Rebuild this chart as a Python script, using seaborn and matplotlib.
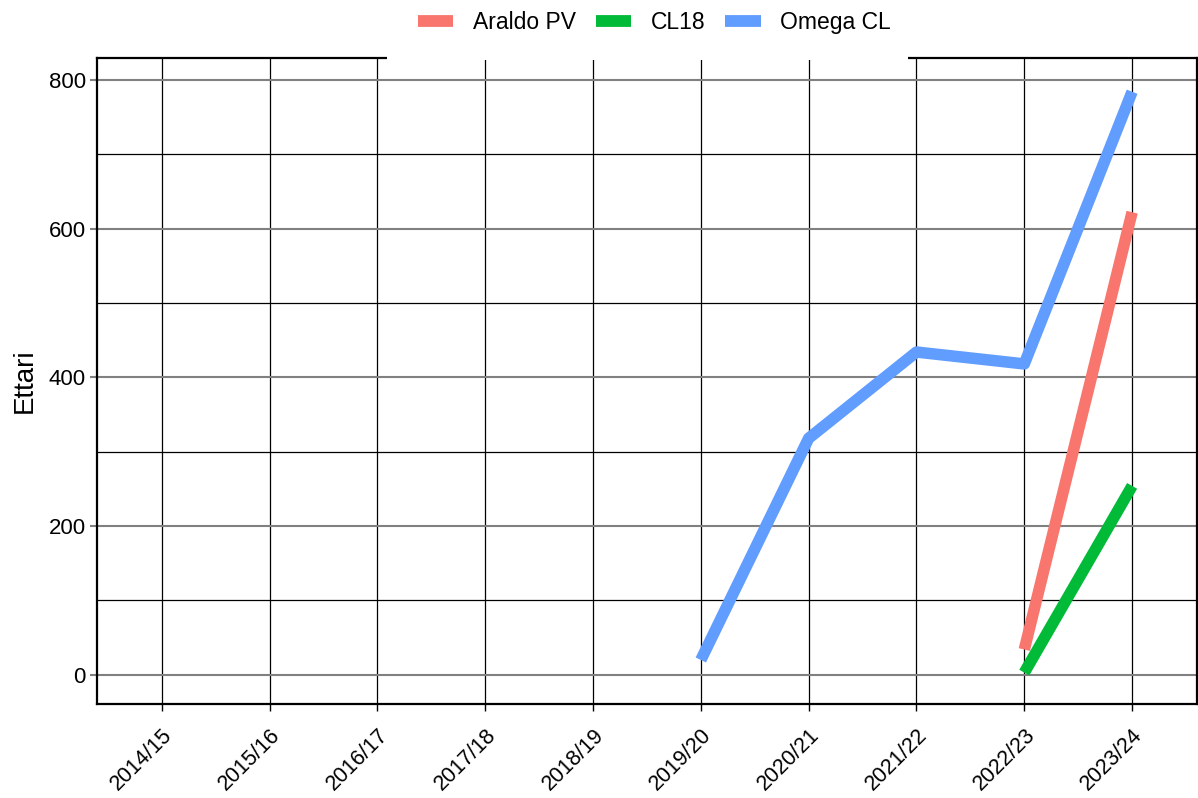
import numpy as np
import pandas as pd
import seaborn as sns
import matplotlib.pyplot as plt
from matplotlib.ticker import MultipleLocator
from matplotlib.lines import Line2D
from matplotlib.patches import Rectangle

seasons = ["2014/15", "2015/16", "2016/17", "2017/18", "2018/19",
           "2019/20", "2020/21", "2021/22", "2022/23", "2023/24"]
araldo = [np.nan] * 8 + [34, 622]
cl18 = [np.nan] * 8 + [3, 254]
omega = [np.nan] * 5 + [20, 318, 434, 418, 784]

names = ["Araldo PV", "CL18", "Omega CL"]
colors = ["#F8766D", "#00BA38", "#619CFF"]

df = pd.DataFrame({"Stagione": seasons, "Araldo PV": araldo,
                   "CL18": cl18, "Omega CL": omega})
df["x"] = range(len(seasons))
long = df.melt(id_vars=["Stagione", "x"], var_name="Varieta", value_name="Ettari").dropna()

sns.set_style("white")
plt.rcParams["font.family"] = ["Liberation Sans", "DejaVu Sans"]
plt.rcParams["text.color"] = "black"
plt.rcParams["axes.labelcolor"] = "black"
plt.rcParams["xtick.color"] = "black"
plt.rcParams["ytick.color"] = "black"

fig, ax = plt.subplots(figsize=(11.98, 7.98), dpi=100)
fig.subplots_adjust(left=0.081, right=0.999, top=0.927, bottom=0.118)

sns.lineplot(data=long, x="x", y="Ettari", hue="Varieta", hue_order=names,
             palette=colors, linewidth=8.3, solid_capstyle="butt",
             legend=False, ax=ax)

ax.set_xlim(-0.6, 9.6)
ax.set_ylim(-39, 829)
ax.set_xticks(range(len(seasons)))
ax.set_xticklabels(seasons, rotation=45, ha="right", rotation_mode="anchor", fontsize=15.5)
ax.yaxis.set_major_locator(MultipleLocator(200))
ax.yaxis.set_minor_locator(MultipleLocator(100))
ax.tick_params(axis="y", which="major", labelsize=16, length=5, width=1.5,
               color="#808080", labelcolor="black", left=True, pad=3)
ax.tick_params(axis="y", which="minor", length=0)
ax.tick_params(axis="x", which="major", length=5, width=1, color="black",
               bottom=True, pad=10)
ax.grid(True, axis="x", color="black", linewidth=0.9)
ax.grid(True, axis="y", which="major", color="#808080", linewidth=1.5)
ax.grid(True, axis="y", which="minor", color="black", linewidth=0.9)
ax.set_axisbelow(True)
for s in ax.spines.values():
    s.set_color("black")
    s.set_linewidth(1.6)

ax.set_xlabel("")
ax.set_ylabel("Ettari", fontsize=20, labelpad=8)

# white band behind the legend hiding part of the top border
ax.add_patch(Rectangle(((387 - 97) / 1100, 0.9972), (908 - 387) / 1100, 0.02,
                       transform=ax.transAxes, facecolor="white", edgecolor="none",
                       clip_on=False, zorder=5))

handles = [Line2D([], [], color=c, linewidth=8.5, solid_capstyle="butt") for c in colors]
leg = ax.legend(handles, names, loc="center", bbox_to_anchor=(0.507, 1.056),
                ncol=3, frameon=False, fontsize=16.5, handlelength=1.53,
                columnspacing=0.87, handletextpad=0.87)
leg.set_zorder(10)

fig.savefig("out.png", dpi=100)
